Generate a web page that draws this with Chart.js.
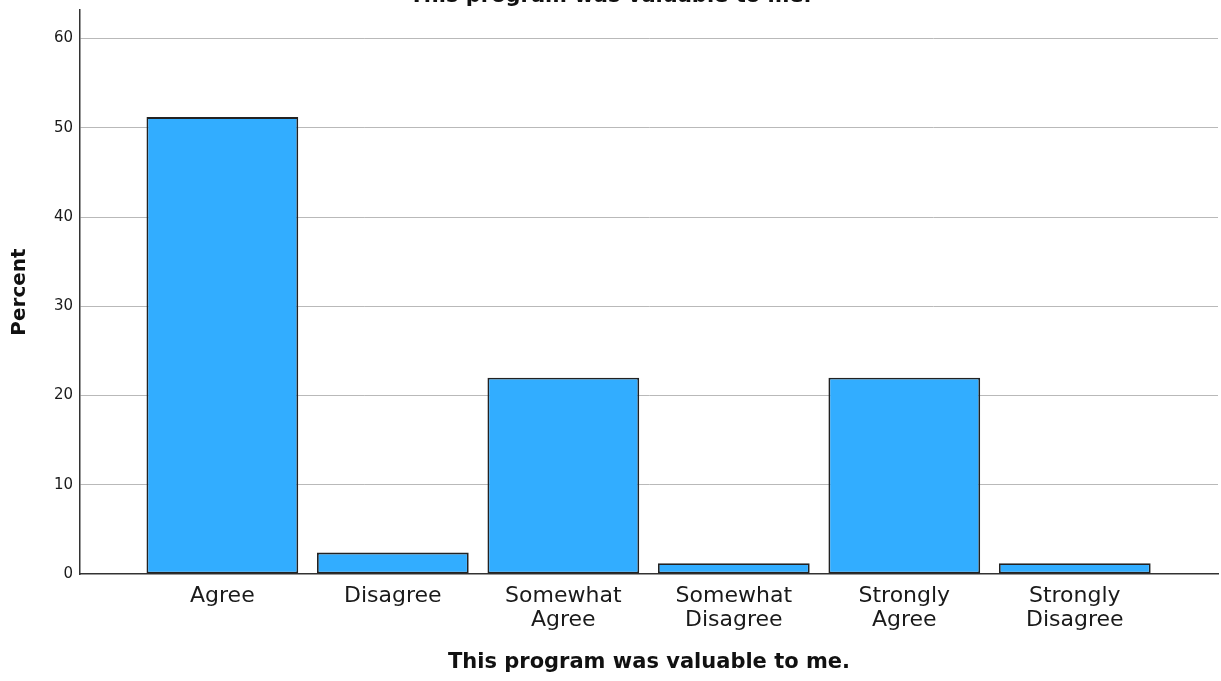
<!DOCTYPE html>
<html>
<head>
<meta charset="utf-8">
<script src="https://cdn.jsdelivr.net/npm/chart.js@4"></script>
<style>
  body { margin: 0; background: #fff; overflow: hidden; }
  #wrap { position: relative; width: 1221px; height: 681px; }
  #topTitle {
    position: absolute; left: 0; top: -15px; width: 1221px;
    text-align: center; font: bold 21px "DejaVu Sans"; line-height: 20px; color: #111;
  }
</style>
</head>
<body>
<div id="wrap">
  <canvas id="barChart" width="1221" height="681"></canvas>
  <div id="topTitle">This program was valuable to me.</div>
</div>
<script>
// answer categories, as they appear on the x axis
const categories = ['Agree', 'Disagree', 'Somewhat Agree', 'Somewhat Disagree', 'Strongly Agree', 'Strongly Disagree'];
const tickLabels = [['Agree'], ['Disagree'], ['Somewhat', 'Agree'], ['Somewhat', 'Disagree'], ['Strongly', 'Agree'], ['Strongly', 'Disagree']];
const percents = [51.2, 2.4, 22.0, 1.2, 22.0, 1.2];
const yTicks = [0, 10, 20, 30, 40, 50, 60];

const barColor = '#32adff';
const axisColor = '#333333';

const ctx = document.getElementById('barChart').getContext('2d');

new Chart(ctx, {
    type: 'bar',
    data: {
        datasets: [{
            label: 'Percent',
            data: categories.map((c, i) => ({ x: i, y: percents[i] })),
            backgroundColor: barColor,
            borderColor: '#222222',
            borderWidth: 1.8,
            borderSkipped: false,
            categoryPercentage: 1,
            barPercentage: 0.89,
        }],
    },
    options: {
        responsive: false,
        animation: false,
        layout: { padding: { left: 0, right: 3, top: 10, bottom: 0 } },
        plugins: {
            legend: { display: false },
            tooltip: { enabled: false },
        },
        scales: {
            x: {
                type: 'linear',
                offset: false,
                min: -0.835,
                max: 5.84,
                afterBuildTicks: (scale) => {
                    scale.ticks = categories.map((c, i) => ({ value: i }));
                },
                afterFit: (scale) => { scale.height = 107; },
                grid: { display: false, drawTicks: false },
                border: { color: axisColor, width: 1.5 },
                ticks: {
                    autoSkip: false,
                    maxRotation: 0,
                    padding: 10,
                    color: '#1a1a1a',
                    font: { family: 'DejaVu Sans', size: 22, lineHeight: '24px' },
                    callback: (value) => tickLabels[value],
                },
                title: {
                    display: true,
                    text: 'This program was valuable to me.',
                    color: '#111',
                    font: { family: 'DejaVu Sans', size: 21, weight: 'bold', lineHeight: '24px' },
                    padding: { top: 0, bottom: 6 },
                },
            },
            y: {
                min: 0,
                max: 63.2,
                afterBuildTicks: (scale) => {
                    scale.ticks = yTicks.map(v => ({ value: v }));
                },
                afterFit: (scale) => {
                    scale.width = 80;
                    scale.paddingTop = 0;
                    scale.paddingBottom = 0;
                },
                grid: {
                    drawTicks: false,
                    color: (c) => (c.tick && c.tick.value === 0 ? 'rgba(0,0,0,0)' : '#b9b9b9'),
                    lineWidth: 1,
                },
                border: { color: axisColor, width: 1.5 },
                ticks: {
                    padding: 7,
                    color: '#1a1a1a',
                    font: { family: 'DejaVu Sans', size: 15 },
                },
                title: {
                    display: true,
                    text: 'Percent',
                    color: '#111',
                    font: { family: 'DejaVu Sans', size: 20, weight: 'bold' },
                    padding: { top: 8, bottom: 0 },
                },
            },
        },
    },
});
</script>
</body>
</html>
